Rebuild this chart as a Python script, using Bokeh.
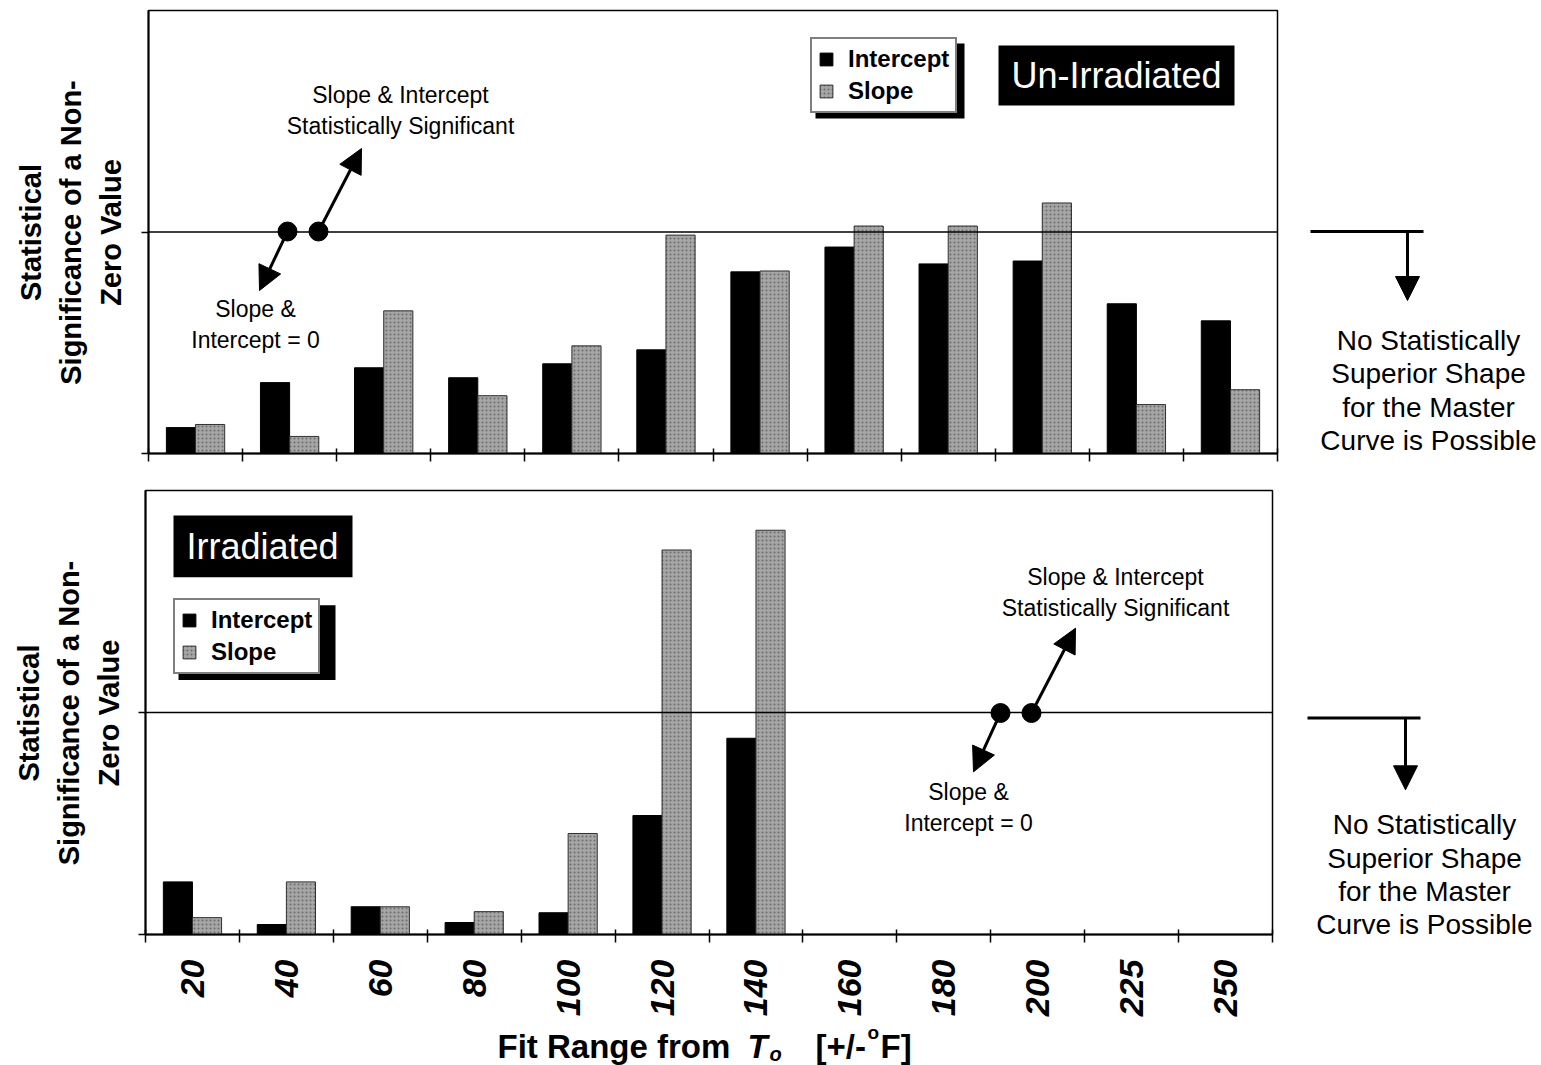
import math
from bokeh.plotting import figure
from bokeh.layouts import column, row
from bokeh.models import (ColumnDataSource, FixedTicker, Span, Label, Arrow, NormalHead,
                          BoxAnnotation, Legend, LegendItem, Range1d)
from bokeh.transform import dodge
from bokeh.embed import file_html
from bokeh.resources import INLINE

# ---------------- data ----------------
categories = ["20", "40", "60", "80", "100", "120", "140", "160", "180", "200", "225", "250"]
unirr_intercept = [0.117, 0.320, 0.387, 0.342, 0.405, 0.468, 0.820, 0.932, 0.856, 0.869, 0.676, 0.599]
unirr_slope = [0.131, 0.077, 0.644, 0.261, 0.486, 0.986, 0.824, 1.027, 1.027, 1.131, 0.221, 0.288]
irr_categories = ["20", "40", "60", "80", "100", "120", "140"]
irr_intercept = [0.237, 0.045, 0.125, 0.054, 0.098, 0.536, 0.884]
irr_slope = [0.076, 0.237, 0.125, 0.103, 0.455, 1.732, 1.821]
threshold = 1.0

FONT = "Liberation Sans"
GRAY = "#a6a6a6"
LEFT_W = 132
RIGHT_W = 261
MID_W = 1541 - LEFT_W - RIGHT_W

TOP_H, TOP_BT, TOP_BB = 470, 10, 17
BOT_H, BOT_BT, BOT_BB = 549, 20, 84
TITLE_H = 1065 - TOP_H - BOT_H


def make_fig(height, b_top, b_bottom, b_left, b_right, show_labels):
    p = figure(width=MID_W, height=height, x_range=Range1d(0.5, len(categories) + 0.5),
               y_range=Range1d(0, 2), output_backend="svg", toolbar_location=None,
               min_border_top=b_top, min_border_bottom=b_bottom,
               min_border_left=b_left, min_border_right=b_right, title=None)
    p.grid.visible = False
    p.outline_line_color = "black"
    p.outline_line_width = 1.5
    p.background_fill_color = "white"
    p.border_fill_color = "white"

    centers = list(range(1, len(categories) + 1))
    bounds = [c - 0.5 for c in centers] + [centers[-1] + 0.5]
    xa = p.xaxis[0]
    xa.axis_line_width = 2
    xa.major_tick_line_color = None
    xa.major_tick_in = 0
    xa.major_tick_out = 8
    xa.minor_tick_line_color = "black"
    xa.minor_tick_line_width = 1.5
    xa.minor_tick_in = 5
    xa.minor_tick_out = 8
    if show_labels:
        xa.ticker = FixedTicker(ticks=centers, minor_ticks=bounds)
        xa.major_label_overrides = {c: lab for c, lab in zip(centers, categories)}
        xa.major_label_orientation = math.pi / 2
        xa.major_label_text_font = FONT
        xa.major_label_text_font_style = "bold italic"
        xa.major_label_text_font_size = "34px"
        xa.major_label_text_color = "black"
        xa.major_label_standoff = 17
    else:
        xa.ticker = FixedTicker(ticks=[], minor_ticks=bounds)
        xa.major_label_standoff = 0

    ya = p.yaxis[0]
    ya.ticker = FixedTicker(ticks=[], minor_ticks=[0, threshold])
    ya.axis_line_width = 2
    ya.major_tick_line_color = None
    ya.minor_tick_in = 0
    ya.minor_tick_out = 7
    ya.minor_tick_line_width = 1.5
    ya.minor_tick_line_color = "black"
    ya.major_label_standoff = 0

    p.add_layout(Span(location=threshold, dimension="width", line_color="black", line_width=1.5))
    return p


def blank(w, h, bt=0, bb=0):
    # data coordinates = pixel position inside this strip (y downward)
    p = figure(width=w, height=h, x_range=Range1d(0, w), y_range=Range1d(h - bb, bt),
               x_axis_type=None, y_axis_type=None, output_backend="svg",
               toolbar_location=None, min_border_top=bt, min_border_bottom=bb,
               min_border_left=0, min_border_right=0, title=None)
    p.outline_line_color = None
    p.background_fill_color = "white"
    p.border_fill_color = "white"
    return p


def bars(p, cats, inter, slope):
    idx = [categories.index(c) + 1 for c in cats]
    src = ColumnDataSource(dict(x=idx, inter=inter, slope=slope))
    r1 = p.vbar(x=dodge("x", -0.155, range=p.x_range), top="inter", width=0.31, source=src,
                fill_color="black", line_color="black")
    r2 = p.vbar(x=dodge("x", 0.155, range=p.x_range), top="slope", width=0.31, source=src,
                fill_color=GRAY, line_color="#303030", line_width=1,
                hatch_pattern="dot", hatch_color="#303030", hatch_scale=4, hatch_alpha=0.5)
    return r1, r2


def conv(left, width, top, height):
    n = len(categories)
    fx = lambda px: 0.5 + (px - left) / width * n
    fy = lambda py: (top + height - py) / height * 2.0
    return fx, fy


def txt(p, x, y, text, size, style="normal", align="center", baseline="middle", color="black",
        angle=0.0, lh=1.2):
    p.add_layout(Label(x=x, y=y, text=text, text_font=FONT, text_font_size=size,
                       text_font_style=style, text_align=align, text_baseline=baseline,
                       text_color=color, angle=angle, text_line_height=lh))


def arrow(p, x0, y0, x1, y1, head=True, size=24, lw=3):
    p.add_layout(Arrow(end=NormalHead(size=size, fill_color="black", line_color="black") if head else None,
                       x_start=x0, y_start=y0, x_end=x1, y_end=y1,
                       line_color="black", line_width=lw))


def legend(p, r1, r2, loc):
    leg = Legend(items=[LegendItem(label="Intercept", renderers=[r1]),
                        LegendItem(label="Slope", renderers=[r2])],
                 location=loc, orientation="vertical", margin=0,
                 border_line_color="black", border_line_width=2,
                 background_fill_color="white", background_fill_alpha=1.0,
                 label_text_font=FONT, label_text_font_style="bold",
                 label_text_font_size="24px", label_text_color="black",
                 glyph_width=16, glyph_height=16,
                 label_standoff=14, padding=6, spacing=4)
    p.add_layout(leg)


ylabel = "Statistical\nSignificance of a Non-\nZero Value"
note_right = "No Statistically\nSuperior Shape\nfor the Master\nCurve is Possible"

# ---------------- top panel: Un-Irradiated ----------------
pt = make_fig(TOP_H, TOP_BT, TOP_BB, 148 - LEFT_W, MID_W - (1277 - LEFT_W), False)
r1, r2 = bars(pt, categories, unirr_intercept, unirr_slope)
fx, fy = conv(148, 1129, 10, 443)   # page pixel -> data

pt.add_layout(BoxAnnotation(left=fx(815), right=fx(964), top=fy(43), bottom=fy(118),
                            fill_color="black", fill_alpha=1.0, line_color=None))
legend(pt, r1, r2, (810 - 148, 453 - 113))
pt.add_layout(BoxAnnotation(left=fx(998), right=fx(1234), top=fy(45), bottom=fy(105),
                            fill_color="black", fill_alpha=1.0, line_color=None))
txt(pt, fx(1116), fy(75), "Un-Irradiated", "36px", color="white")

pt.scatter(x=[fx(287), fx(318)], y=[fy(231), fy(231)], size=19, color="black")
arrow(pt, fx(287), fy(231), fx(259), fy(290))
arrow(pt, fx(318), fy(231), fx(361), fy(148))
txt(pt, fx(400), fy(110), "Slope & Intercept\nStatistically Significant", "23px")
txt(pt, fx(255), fy(324), "Slope &\nIntercept = 0", "23px")

# ---------------- bottom panel: Irradiated ----------------
pb = make_fig(BOT_H, BOT_BT, BOT_BB, 145 - LEFT_W, MID_W - (1272 - LEFT_W), True)
s1, s2 = bars(pb, irr_categories, irr_intercept, irr_slope)
gx, gy = conv(145, 1127, 490, 445)

pb.add_layout(BoxAnnotation(left=gx(178), right=gx(335), top=gy(605), bottom=gy(680),
                            fill_color="black", fill_alpha=1.0, line_color=None))
legend(pb, s1, s2, (173 - 145, 935 - 675))
pb.add_layout(BoxAnnotation(left=gx(173), right=gx(352), top=gy(515), bottom=gy(577),
                            fill_color="black", fill_alpha=1.0, line_color=None))
txt(pb, gx(262), gy(546), "Irradiated", "36px", color="white")

pb.scatter(x=[gx(1000), gx(1031)], y=[gy(713), gy(713)], size=19, color="black")
arrow(pb, gx(1000), gy(713), gx(973), gy(772))
arrow(pb, gx(1031), gy(713), gx(1075), gy(628))
txt(pb, gx(1115), gy(592), "Slope & Intercept\nStatistically Significant", "23px")
txt(pb, gx(968), gy(808), "Slope &\nIntercept = 0", "23px")

# ---------------- left strips: y-axis titles ----------------
lt = blank(LEFT_W, TOP_H, TOP_BT, TOP_BB)
txt(lt, 70, 232, ylabel, "29px", style="bold", angle=math.pi / 2, lh=1.25)
lb = blank(LEFT_W, BOT_H, BOT_BT, BOT_BB)
txt(lb, 68, 713 - TOP_H, ylabel, "29px", style="bold", angle=math.pi / 2, lh=1.25)

# ---------------- right strips: notes ----------------
X0 = 1541 - RIGHT_W
rt = blank(RIGHT_W, TOP_H, TOP_BT, TOP_BB)
arrow(rt, 1310 - X0, 231, 1423 - X0, 231, head=False)
arrow(rt, 1407 - X0, 231, 1407 - X0, 300)
txt(rt, 1428 - X0, 390, note_right, "28px", lh=1.07)
rb = blank(RIGHT_W, BOT_H, BOT_BT, BOT_BB)
arrow(rb, 1307 - X0, 718 - TOP_H, 1420 - X0, 718 - TOP_H, head=False)
arrow(rb, 1405 - X0, 718 - TOP_H, 1405 - X0, 790 - TOP_H)
txt(rb, 1424 - X0, 875 - TOP_H, note_right, "28px", lh=1.07)

# ---------------- x-axis title strip ----------------
Y0 = TOP_H + BOT_H
tt = blank(1541, TITLE_H)
txt(tt, 497, 1046 - Y0, "Fit Range from", "33px", style="bold", align="left")
txt(tt, 747, 1046 - Y0, "T", "33px", style="bold italic", align="left")
txt(tt, 769, 1053 - Y0, "o", "20px", style="bold italic", align="left")
txt(tt, 815, 1046 - Y0, "[+/-", "33px", style="bold", align="left")
txt(tt, 867, 1032 - Y0, "o", "19px", style="bold", align="left")
txt(tt, 880, 1046 - Y0, "F]", "33px", style="bold", align="left")

layout = column(row(lt, pt, rt, spacing=0), row(lb, pb, rb, spacing=0), tt, spacing=0)
open("out.html", "w").write(file_html(layout, INLINE))
